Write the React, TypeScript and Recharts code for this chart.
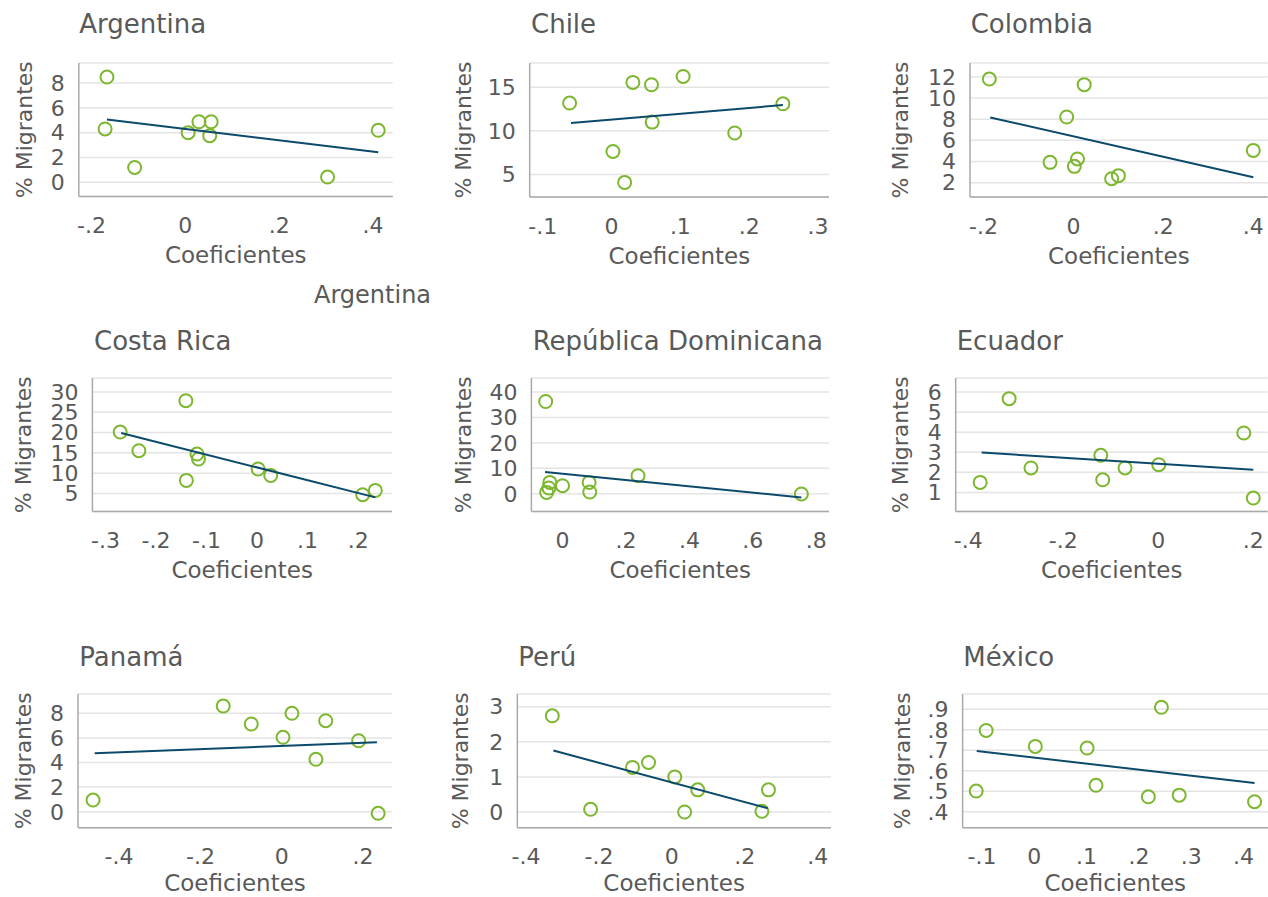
import { CartesianGrid, Scatter, ScatterChart, XAxis, YAxis } from "recharts";

const FONT = "'DejaVu Sans', sans-serif";
const TEXT = "#595959";
const GREEN = "#7cb72f";
const NAVY = "#0b4a6b";

// [coeficiente, % migrantes]
const argentina = [[-0.167, 8.48], [-0.171, 4.3], [-0.108, 1.2], [0.006, 4.0], [0.029, 4.88], [0.055, 4.88], [0.052, 3.76], [0.303, 0.43], [0.411, 4.19]];
const argentinaFit = [[-0.167, 5.07], [0.411, 2.43]];

const chile = [[-0.061, 13.18], [0.031, 15.55], [0.058, 15.28], [0.104, 16.23], [0.059, 11.0], [0.002, 7.64], [0.019, 4.09], [0.179, 9.75], [0.249, 13.1]];
const chileFit = [[-0.059, 10.89], [0.249, 12.95]];

const colombia = [[-0.187, 11.8], [0.024, 11.27], [-0.015, 8.21], [-0.052, 3.92], [0.009, 4.24], [0.002, 3.54], [0.085, 2.37], [0.1, 2.66], [0.4, 5.05]];
const colombiaFit = [[-0.185, 8.17], [0.4, 2.5]];

const costaRica = [[-0.271, 20.14], [-0.234, 15.53], [-0.141, 27.86], [-0.119, 14.72], [-0.116, 13.49], [-0.14, 8.21], [0.002, 11.02], [0.027, 9.44], [0.209, 4.68], [0.234, 5.74]];
const costaRicaFit = [[-0.269, 19.9], [0.234, 4.02]];

const repDominicana = [[-0.053, 36.3], [-0.04, 4.45], [-0.043, 2.24], [-0.05, 0.51], [0, 3.15], [0.084, 4.45], [0.086, 0.67], [0.238, 7.09], [0.753, -0.12]];
const repDominicanaFit = [[-0.055, 8.54], [0.753, -1.46]];

const ecuador = [[-0.375, 1.5], [-0.314, 5.67], [-0.268, 2.22], [-0.121, 2.85], [-0.117, 1.63], [-0.07, 2.22], [0.001, 2.38], [0.18, 3.96], [0.2, 0.72]];
const ecuadorFit = [[-0.372, 2.99], [0.2, 2.13]];

const panama = [[-0.464, 0.95], [-0.144, 8.59], [-0.075, 7.13], [0.025, 8.0], [0.003, 6.05], [0.108, 7.4], [0.084, 4.26], [0.189, 5.77], [0.237, -0.13]];
const panamaFit = [[-0.46, 4.75], [0.234, 5.64]];

const peru = [[-0.328, 2.74], [-0.223, 0.077], [-0.108, 1.27], [-0.064, 1.41], [0.008, 1.0], [0.071, 0.63], [0.035, 0], [0.247, 0.02], [0.265, 0.63]];
const peruFit = [[-0.325, 1.75], [0.263, 0.105]];

const mexico = [[-0.111, 0.501], [-0.092, 0.797], [0.002, 0.719], [0.101, 0.711], [0.118, 0.529], [0.243, 0.91], [0.218, 0.473], [0.277, 0.481], [0.421, 0.449]];
const mexicoFit = [[-0.11, 0.697], [0.421, 0.54]];

const PANELS = [
  { title: "Argentina", pts: argentina, fit: argentinaFit, xTicks: [-0.2, 0, 0.2, 0.4], yTicks: [0, 2, 4, 6, 8], xDom: [-0.227, 0.442], yDom: [-1.13, 9.61], L: 78.3, R: 392.3, T: 63.3, B: 196.7, labelX: 23.5, titleX: 79.3, titleY: 33.3, xLab: 67 },
  { title: "Chile", pts: chile, fit: chileFit, xTicks: [-0.1, 0, 0.1, 0.2, 0.3], yTicks: [5, 10, 15], xDom: [-0.119, 0.316], yDom: [2.42, 17.77], L: 530, R: 829.3, T: 63.3, B: 197.3, labelX: 463.3, titleX: 531, titleY: 33.3, xLab: 67 },
  { title: "Colombia", pts: colombia, fit: colombiaFit, xTicks: [-0.2, 0, 0.2, 0.4], yTicks: [2, 4, 6, 8, 10, 12], xDom: [-0.23, 0.432], yDom: [0.64, 13.32], L: 970, R: 1267.7, T: 63.3, B: 197.3, labelX: 900, titleX: 970.7, titleY: 33.3, xLab: 67 },
  { title: "Costa Rica", pts: costaRica, fit: costaRicaFit, xTicks: [-0.3, -0.2, -0.1, 0, 0.1, 0.2], yTicks: [5, 10, 15, 20, 25, 30], xDom: [-0.326, 0.267], yDom: [0.57, 33.46], L: 92.7, R: 392.3, T: 378.3, B: 511.7, labelX: 23.3, titleX: 94, titleY: 350, xLab: 67 },
  { title: "República Dominicana", pts: repDominicana, fit: repDominicanaFit, xTicks: [0, 0.2, 0.4, 0.6, 0.8], yTicks: [0, 10, 20, 30, 40], xDom: [-0.098, 0.84], yDom: [-6.97, 45.55], L: 531.7, R: 829.3, T: 378.3, B: 511.7, labelX: 463.3, titleX: 532.7, titleY: 350, xLab: 67 },
  { title: "Ecuador", pts: ecuador, fit: ecuadorFit, xTicks: [-0.4, -0.2, 0, 0.2], yTicks: [1, 2, 3, 4, 5, 6], xDom: [-0.4265, 0.2303], yDom: [0.055, 6.7], L: 955.7, R: 1267.7, T: 378.3, B: 511.7, labelX: 900, titleX: 956.7, titleY: 350, xLab: 67 },
  { title: "Panamá", pts: panama, fit: panamaFit, xTicks: [-0.4, -0.2, 0, 0.2], yTicks: [0, 2, 4, 6, 8], xDom: [-0.501, 0.271], yDom: [-1.3, 9.57], L: 78.3, R: 392.3, T: 694, B: 827.7, labelX: 23.3, titleX: 79.3, titleY: 665.7, xLab: 63 },
  { title: "Perú", pts: peru, fit: peruFit, xTicks: [-0.4, -0.2, 0, 0.2, 0.4], yTicks: [0, 1, 2, 3], xDom: [-0.424, 0.4365], yDom: [-0.447, 3.36], L: 517.3, R: 831, T: 694, B: 827.7, labelX: 460, titleX: 518.3, titleY: 665.7, xLab: 63 },
  { title: "México", pts: mexico, fit: mexicoFit, xTicks: [-0.1, 0, 0.1, 0.2, 0.3, 0.4], yTicks: [0.4, 0.5, 0.6, 0.7, 0.8, 0.9], xDom: [-0.137, 0.4467], yDom: [0.322, 0.975], L: 962.3, R: 1267.7, T: 694, B: 827.7, labelX: 901.7, titleX: 963.3, titleY: 665.7, xLab: 63 },
];

// stata-style labels: -.2, 0, .4
const fmt = (v: number) => String(v).replace(/^(-?)0\./, "$1.");

const toXY = (arr: number[][]) => arr.map(([x, y]) => ({ x, y }));

const Ring = (props: any) => {
  if (props.cx == null || props.cy == null) return <g />;
  return <circle cx={props.cx} cy={props.cy} r={6.5} fill="none" stroke={GREEN} strokeWidth={2} />;
};

function Panel({ p }: { p: (typeof PANELS)[number] }) {
  const top = 10;
  const right = 4;
  const xAxisH = 80;
  const chartLeft = p.labelX - 14;
  const yAxisW = p.L - chartLeft;
  const width = yAxisW + (p.R - p.L) + right;
  const height = top + (p.B - p.T) + xAxisH;

  return (
    <div style={{ position: "absolute", left: chartLeft, top: p.T - top }}>
      <ScatterChart width={width} height={height} margin={{ top, right, bottom: 0, left: 0 }}>
        <CartesianGrid vertical={false} stroke="#e4e4e4" strokeWidth={1.5} />
        <XAxis
          type="number"
          dataKey="x"
          domain={p.xDom}
          ticks={p.xTicks}
          interval={0}
          allowDataOverflow
          height={xAxisH}
          tickFormatter={fmt}
          tickLine={false}
          tickSize={0}
          tickMargin={21}
          stroke="#a9a9a9"
          strokeWidth={1.5}
          tick={{ fill: TEXT, fontSize: 22, fontFamily: FONT }}
          label={{ value: "Coeficientes", position: "insideBottom", offset: xAxisH - p.xLab, fill: TEXT, style: { fontSize: 23, fontFamily: FONT, fill: TEXT } }}
        />
        <YAxis
          type="number"
          dataKey="y"
          domain={p.yDom}
          ticks={p.yTicks}
          interval={0}
          allowDataOverflow
          width={yAxisW}
          tickFormatter={fmt}
          tickLine={false}
          tickSize={0}
          tickMargin={14}
          stroke="#a9a9a9"
          strokeWidth={1.5}
          tick={{ fill: TEXT, fontSize: 22, fontFamily: FONT }}
          label={{ value: "% Migrantes", angle: -90, position: "insideLeft", offset: 14, style: { textAnchor: "middle", fontSize: 22, fontFamily: FONT, fill: TEXT } }}
        />
        <Scatter data={toXY(p.pts)} shape={Ring} isAnimationActive={false} />
        <Scatter
          data={toXY(p.fit)}
          line={{ stroke: NAVY, strokeWidth: 2 }}
          lineType="joint"
          shape={() => <g />}
          isAnimationActive={false}
        />
      </ScatterChart>
    </div>
  );
}

export default function App() {
  return (
    <div style={{ position: "absolute", left: 0, top: 0, width: 1268, height: 897, overflow: "hidden", background: "#fff" }}>
      {PANELS.map((p) => (
        <Panel key={p.title} p={p} />
      ))}
      <svg width={1268} height={897} style={{ position: "absolute", left: 0, top: 0, pointerEvents: "none" }}>
        {PANELS.map((p) => (
          <text key={p.title} x={p.titleX} y={p.titleY} fill={TEXT} fontSize={26} fontFamily={FONT}>
            {p.title}
          </text>
        ))}
        <text x={314} y={303} fill={TEXT} fontSize={24} fontFamily={FONT}>
          Argentina
        </text>
      </svg>
    </div>
  );
}
